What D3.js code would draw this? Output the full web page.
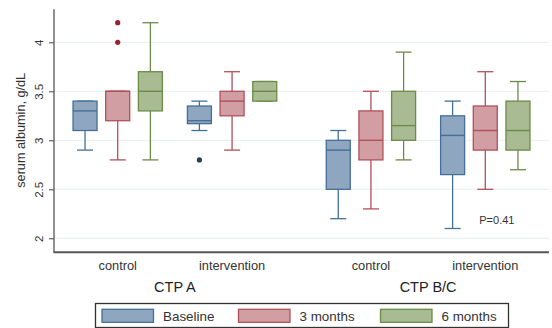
<!DOCTYPE html>
<html>
<head>
<meta charset="utf-8">
<script src="https://cdn.jsdelivr.net/npm/d3@7"></script>
<style>
html,body{margin:0;padding:0;background:#fff;}
svg{display:block;font-family:"Liberation Sans",Arial,sans-serif;}
</style>
</head>
<body>
<svg id="chart" width="552" height="328"></svg>
<script>
// ---- data ----
const ctpGroups = ["CTP A", "CTP B/C"];
const categories = ["control", "intervention", "control", "intervention"];
const categoryCtp = [0, 0, 1, 1];
const series = ["Baseline", "3 months", "6 months"];
const yTicks = [2, 2.5, 3, 3.5, 4];
// [lower whisker, q1, median, q3, upper whisker] per category
const baselineStats = [
  [2.9, 3.1, 3.3, 3.4, 3.4],
  [3.1, 3.17, 3.2, 3.35, 3.4],
  [2.2, 2.5, 2.9, 3.0, 3.1],
  [2.1, 2.65, 3.05, 3.25, 3.4]
];
const months3Stats = [
  [2.8, 3.2, 3.5, 3.5, 3.5],
  [2.9, 3.25, 3.4, 3.5, 3.7],
  [2.3, 2.8, 3.0, 3.3, 3.5],
  [2.5, 2.9, 3.1, 3.35, 3.7]
];
const months6Stats = [
  [2.8, 3.3, 3.5, 3.7, 4.2],
  [3.4, 3.4, 3.5, 3.6, 3.6],
  [2.8, 3.0, 3.15, 3.5, 3.9],
  [2.7, 2.9, 3.1, 3.4, 3.6]
];
const baselineOutliers = [[], [2.8], [], []];
const months3Outliers = [[4.0, 4.2], [], [], []];
const months6Outliers = [[], [], [], []];
const pText = "P=0.41";
const pValuePos = 2.15;

// ---- styles ----
const fills = ["#8ea6bf", "#d19ea4", "#a9bb92"];
const strokes = ["#456f99", "#b24f5a", "#6b8b48"];
const outlierCols = ["#1f4066", "#9e1f2e", "#4f6b2c"];
const textCol = "#333";

const svg = d3.select("#chart");
const pLeft = 54, pRight = 549, pTop = 9.3, pBottom = 252.3;

const y = d3.scaleLinear().domain([1.857, 4.337]).range([pBottom, pTop]);
// slot positions: 3 boxes per category, gaps between categories and CTP groups
const slot = (ci, si) => categoryCtp[ci] * 7.75 + (ci % 2) * 3.5 + si;
const x = d3.scaleLinear().domain([-0.95, 14.2]).range([pLeft, pRight]);
const boxW = 24, capW = 16;

// gridlines
svg.append("g").selectAll("line").data(yTicks).join("line")
  .attr("x1", pLeft).attr("x2", pRight)
  .attr("y1", d => y(d)).attr("y2", d => y(d))
  .attr("stroke", "#e6eff1").attr("stroke-width", 1);

// y axis
const yAxis = svg.append("g").attr("transform", `translate(${pLeft},0)`)
  .call(d3.axisLeft(y).tickValues(yTicks).tickSize(5).tickPadding(0).tickFormat(d3.format("")));
yAxis.select(".domain").remove();
yAxis.selectAll(".tick line").attr("stroke", "#444");
yAxis.selectAll(".tick text")
  .attr("transform", "rotate(-90)")
  .attr("x", 0).attr("y", -11).attr("dy", 0)
  .attr("text-anchor", "middle")
  .attr("fill", textCol).style("font-size", "11.5px")
  .style("font-family", '"Liberation Sans",Arial,sans-serif');
svg.append("line").attr("x1", pLeft).attr("x2", pLeft).attr("y1", pTop).attr("y2", pBottom)
  .attr("stroke", "#555").attr("stroke-width", 1.3);
svg.append("line").attr("x1", pLeft - 0.6).attr("x2", pRight).attr("y1", pBottom).attr("y2", pBottom)
  .attr("stroke", "#555").attr("stroke-width", 2);

svg.append("text")
  .attr("transform", `translate(25,${(y(yTicks[0]) + y(yTicks[yTicks.length - 1])) / 2 - 10}) rotate(-90)`)
  .attr("text-anchor", "middle").attr("fill", textCol)
  .style("font-size", "12.7px").text("serum albumin, g/dL");

// boxes
const allStats = [baselineStats, months3Stats, months6Stats];
const allOut = [baselineOutliers, months3Outliers, months6Outliers];
const g = svg.append("g");
series.forEach((s, si) => {
  allStats[si].forEach((st, ci) => {
    const cx = x(slot(ci, si));
    const [lo, q1, med, q3, hi] = st;
    const col = strokes[si];
    const bg = g.append("g");
    bg.append("line").attr("x1", cx).attr("x2", cx).attr("y1", y(q3)).attr("y2", y(hi))
      .attr("stroke", col).attr("stroke-width", 1.3);
    bg.append("line").attr("x1", cx).attr("x2", cx).attr("y1", y(q1)).attr("y2", y(lo))
      .attr("stroke", col).attr("stroke-width", 1.3);
    [lo, hi].forEach(v => {
      bg.append("line").attr("x1", cx - capW / 2).attr("x2", cx + capW / 2)
        .attr("y1", y(v)).attr("y2", y(v)).attr("stroke", col).attr("stroke-width", 1.3);
    });
    bg.append("rect").attr("x", cx - boxW / 2).attr("width", boxW)
      .attr("y", y(q3)).attr("height", Math.max(0.5, y(q1) - y(q3)))
      .attr("fill", fills[si]).attr("stroke", col).attr("stroke-width", 1.3);
    bg.append("line").attr("x1", cx - boxW / 2).attr("x2", cx + boxW / 2)
      .attr("y1", y(med)).attr("y2", y(med)).attr("stroke", col).attr("stroke-width", 1.4);
    allOut[si][ci].forEach(v => {
      bg.append("circle").attr("cx", cx).attr("cy", y(v)).attr("r", 2.6)
        .attr("fill", outlierCols[si]);
    });
  });
});

// category labels
svg.append("g").selectAll("text").data(categories).join("text")
  .attr("x", (d, i) => x(slot(i, 1)))
  .attr("y", 269.5)
  .attr("text-anchor", "middle").attr("fill", textCol)
  .style("font-size", "12.8px").text(d => d);

// CTP labels
svg.append("g").selectAll("text").data(ctpGroups).join("text")
  .attr("x", (d, i) => (x(slot(i * 2, 1)) + x(slot(i * 2 + 1, 1))) / 2)
  .attr("y", 292)
  .attr("text-anchor", "middle").attr("fill", "#222")
  .style("font-size", "14.5px").text(d => d);

// P value
svg.append("text").attr("x", x(slot(3, 1)) - 6).attr("y", y(pValuePos))
  .attr("fill", textCol).style("font-size", "11px").text(pText);

// legend
const lg = svg.append("g");
lg.append("rect").attr("x", 95.5).attr("y", 303.5).attr("width", 413).attr("height", 24)
  .attr("fill", "#fff").attr("stroke", "#333").attr("stroke-width", 1.3);
const legX = [102, 238.5, 380.5];
series.forEach((s, i) => {
  lg.append("rect").attr("x", legX[i]).attr("y", 309.3).attr("width", 51.5).attr("height", 13)
    .attr("fill", fills[i]).attr("stroke", strokes[i]).attr("stroke-width", 1.3);
  lg.append("text").attr("x", legX[i] + 61).attr("y", 320.5)
    .attr("fill", textCol).style("font-size", "13.4px").text(s);
});
</script>
</body>
</html>
